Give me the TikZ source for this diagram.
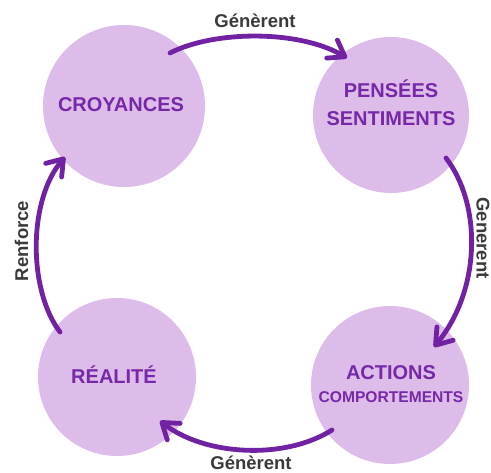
\documentclass[tikz,border=0pt]{standalone}
\usepackage{fontspec}
\setmainfont{Liberation Sans}
\usetikzlibrary{arrows.meta,calc}
\definecolor{blob}{RGB}{222,188,234}
\definecolor{ink}{RGB}{118,40,168}
\definecolor{arr}{RGB}{112,34,162}
\definecolor{lab}{RGB}{58,58,58}
\tikzset{
  blobc/.style={circle,fill=blob,draw=none,inner sep=0pt},
  title/.style={text=ink,font=\bfseries\fontsize{20}{24}\selectfont,anchor=base,inner sep=0pt},
  subtitle/.style={title,font=\bfseries\fontsize{15.6}{19}\selectfont},
  conn/.style={draw=arr,line width=4.8pt,line cap=round,-{Straight Barb[round,length=15pt,width=21pt]}},
  lbl/.style={text=lab,font=\bfseries\fontsize{18.5}{22}\selectfont,anchor=base,inner sep=0pt}
}
\begin{document}
\begin{tikzpicture}[x=1pt,y=-1pt]
\useasboundingbox (0,0) rectangle (491,473);
\node[blobc,minimum size=162pt] (croy) at (124,106) {};
\node[blobc,minimum size=156pt] (pens) at (391,115) {};
\node[blobc,minimum size=158pt] (act) at (390,385) {};
\node[blobc,minimum size=158pt] (real) at (117,377) {};

\node[title] (tcroy) at (121,112) {CROYANCES};
\node[title] (tpens1) at (391,98) {PENSÉES};
\node[title] (tpens2) at (391,126) {SENTIMENTS};
\node[title] (tact1) at (391,380) {ACTIONS};
\node[subtitle] (tact2) at (391,403) {COMPORTEMENTS};
\node[title] (treal) at (114,384) {RÉALITÉ};

\coordinate (a1) at ($(croy)+(46,-53)$);
\coordinate (b1) at ($(pens)+(-44,-57)$);
\coordinate (c1) at ($(pens)+(55,43)$);
\coordinate (d1) at ($(act)+(44,-38)$);
\coordinate (e1) at ($(act)+(-58,45)$);
\coordinate (f1) at ($(real)+(43,44)$);
\coordinate (g1) at ($(real)+(-57,-45)$);
\coordinate (h1) at ($(croy)+(-59,51)$);

\draw[conn] (a1) .. controls (215,30) and (300,30) .. (b1);
\draw[conn] (c1) .. controls (482,205) and (481,290) .. (d1);
\draw[conn] (e1) .. controls (285,460) and (205,456) .. (f1);
\draw[conn] (g1) .. controls (28,290) and (28,200) .. (h1);

\node[lbl] (l1) at (255,28) {Génèrent};
\node[lbl,rotate=-90] (l2) at (476.5,238) {Generent};
\node[lbl] (l3) at (251,470) {Génèrent};
\node[lbl,rotate=90] (l4) at (28,241) {Renforce};
\end{tikzpicture}
\end{document}
